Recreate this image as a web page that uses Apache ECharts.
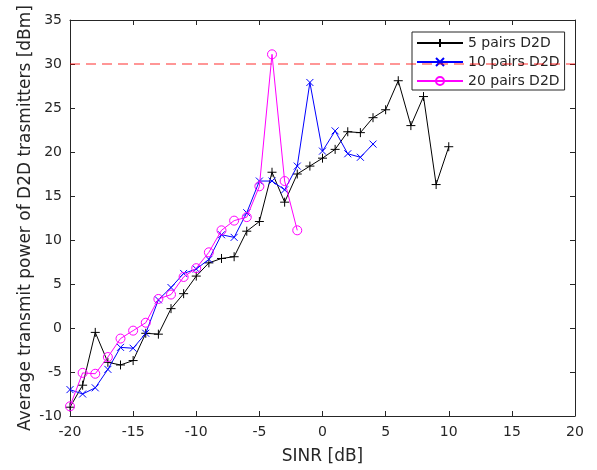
<!DOCTYPE html>
<html>
<head>
<meta charset="utf-8">
<script src="https://cdn.jsdelivr.net/npm/echarts@6/dist/echarts.min.js"></script>
<style>html,body{margin:0;padding:0;background:#fff}#c{width:597px;height:470px}</style>
</head>
<body>
<div id="c"></div>
<script>
const sinr5 = [-20,-19,-18,-17,-16,-15,-14,-13,-12,-11,-10,-9,-8,-7,-6,-5,-4,-3,-2,-1,0,1,2,3,4,5,6,7,8,9,10];
const power5 = [-9.0,-6.5,-0.5,-3.9,-4.2,-3.7,-0.6,-0.7,2.2,3.9,5.9,7.4,7.9,8.1,11.0,12.1,17.7,14.3,17.5,18.4,19.3,20.3,22.3,22.2,23.9,24.8,28.1,23.0,26.3,16.3,20.6];
const sinr10 = [-20,-19,-18,-17,-16,-15,-14,-13,-12,-11,-10,-9,-8,-7,-6,-5,-4,-3,-2,-1,0,1,2,3,4];
const power10 = [-7.0,-7.5,-6.8,-4.7,-2.2,-2.3,-0.6,3.2,4.6,6.2,6.7,7.8,10.6,10.3,13.1,16.7,16.7,15.7,18.4,27.9,20.1,22.4,19.8,19.4,20.9];
const sinr20 = [-20,-19,-18,-17,-16,-15,-14,-13,-12,-11,-10,-9,-8,-7,-6,-5,-4,-3,-2];
const power20 = [-8.9,-5.1,-5.2,-3.3,-1.2,-0.3,0.6,3.3,3.8,5.8,6.8,8.6,11.1,12.2,12.6,16.1,31.1,16.7,11.1];
const seriesNames = ['5 pairs D2D','10 pairs D2D','20 pairs D2D'];
const maxPowerLimit = 30;
const xTicks = {min:-20, max:20, interval:5};
const yTicks = {min:-10, max:35, interval:5};

const zip = (xs, ys) => xs.map((x, i) => [x, ys[i]]);
const axisColor = '#262626';
const font = 'DejaVu Sans';

const chart = echarts.init(document.getElementById('c'), null, {renderer:'canvas'});
const baseAxis = {
  axisLine:{show:true, onZero:false, lineStyle:{color:axisColor, width:1}},
  axisTick:{show:true, inside:true, length:5, lineStyle:{color:axisColor}},
  splitLine:{show:false}
};
chart.setOption({
  animation:false,
  backgroundColor:'#fff',
  textStyle:{fontFamily:font},
  grid:{left:70, top:20, right:22, bottom:53, containLabel:false},
  xAxis:[
    Object.assign({type:'value', position:'bottom', min:xTicks.min, max:xTicks.max, interval:xTicks.interval,
      name:'SINR [dB]', nameLocation:'middle', nameGap:32, nameMoveOverlap:false,
      nameTextStyle:{fontFamily:font, fontSize:17, color:axisColor},
      axisLabel:{fontFamily:font, fontSize:14, color:axisColor, margin:9}}, baseAxis),
    Object.assign({type:'value', position:'top', min:xTicks.min, max:xTicks.max, interval:xTicks.interval,
      axisLabel:{show:false}}, baseAxis)
  ],
  yAxis:[
    Object.assign({type:'value', position:'left', min:yTicks.min, max:yTicks.max, interval:yTicks.interval,
      name:'Average transmit power of D2D trasmitters [dBm]', nameLocation:'middle', nameGap:36, nameMoveOverlap:false,
      nameTextStyle:{fontFamily:font, fontSize:17, color:axisColor},
      axisLabel:{fontFamily:font, fontSize:14, color:axisColor, margin:8}}, baseAxis),
    Object.assign({type:'value', position:'right', min:yTicks.min, max:yTicks.max, interval:yTicks.interval,
      axisLabel:{show:false}}, baseAxis)
  ],
  legend:{
    orient:'vertical', left:412, top:32,
    backgroundColor:'#fff', borderColor:axisColor, borderWidth:1, borderRadius:0,
    padding:[4,5,2,4], itemWidth:46, itemHeight:10, itemGap:5,
    textStyle:{fontFamily:font, fontSize:14, color:axisColor, lineHeight:14},
    data:seriesNames
  },
  series:[
    {
      name:seriesNames[0], type:'line', data:zip(sinr5, power5),
      symbol:'path://M0,-1L0,1M-1,0L1,0', symbolSize:9,
      lineStyle:{color:'#000', width:1},
      itemStyle:{color:'#000', borderColor:'#000', borderWidth:1},
      markLine:{silent:true, symbol:'none', label:{show:false},
        lineStyle:{color:'rgba(255,0,0,0.55)', type:[10,6], width:1.5},
        data:[{yAxis:maxPowerLimit}]},
      z:3
    },
    {
      name:seriesNames[1], type:'line', data:zip(sinr10, power10),
      symbol:'path://M-1,-1L1,1M-1,1L1,-1', symbolSize:7,
      lineStyle:{color:'#0000ff', width:1},
      itemStyle:{color:'#0000ff', borderColor:'#0000ff', borderWidth:1},
      z:4
    },
    {
      name:seriesNames[2], type:'line', data:zip(sinr20, power20),
      symbol:'circle', symbolSize:9,
      lineStyle:{color:'#ff00ff', width:1},
      itemStyle:{color:'rgba(255,0,255,0)', borderColor:'#ff00ff', borderWidth:1},
      z:5
    }
  ]
});
</script>
</body>
</html>
